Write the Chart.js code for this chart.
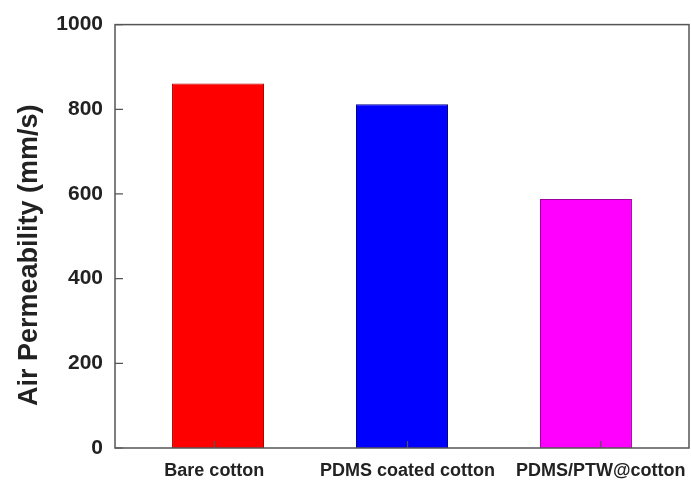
<!DOCTYPE html>
<html>
<head>
<meta charset="utf-8">
<script src="https://cdn.jsdelivr.net/npm/chart.js@4.4.1/dist/chart.umd.min.js"></script>
<style>
  html,body{margin:0;padding:0;background:#fff;}
  #wrap{width:691px;height:482px;}
</style>
</head>
<body>
<div id="wrap"><canvas id="c" width="691" height="482"></canvas></div>
<script>
// ====== DATA ======
const CATEGORIES = ['Bare cotton', 'PDMS coated cotton', 'PDMS/PTW@cotton'];
const POSITIONS  = [1, 2, 3];
const TICK_POS   = [0.98, 2.03, 3.08];   // source labels/ticks sit slightly off the bar centres
const VALUES     = [861, 812, 588];
const COLORS     = ['#ff0000', '#0000ff', '#ff00ff'];
const Y_TICKS    = [0, 200, 400, 600, 800, 1000];
const Y_TITLE    = 'Air Permeability (mm/s)';

const AXIS_COLOR = '#555';
const TEXT_COLOR = '#222';
const FONT = 'Liberation Sans, Arial, sans-serif';

// box around the plot, inward tick marks, y title
const framePlugin = {
  id: 'frame',
  afterDatasetsDraw(chart){
    const {ctx, chartArea:a, scales:{x, y}} = chart;
    ctx.save();
    ctx.strokeStyle = AXIS_COLOR;
    ctx.lineWidth = 1.5;
    ctx.strokeRect(a.left, a.top, a.right - a.left, a.bottom - a.top);
    ctx.lineWidth = 1.2;
    ctx.beginPath();
    Y_TICKS.forEach(v=>{
      const py = y.getPixelForValue(v);
      ctx.moveTo(a.left, py); ctx.lineTo(a.left + 8, py);
    });
    TICK_POS.forEach(v=>{
      const px = x.getPixelForValue(v);
      ctx.moveTo(px, a.bottom); ctx.lineTo(px, a.bottom - 7);
    });
    ctx.stroke();
    // y title, sits a bit below the plot centre as in the source
    ctx.translate(37, (a.top + a.bottom) / 2 + 19);
    ctx.rotate(-Math.PI / 2);
    ctx.fillStyle = TEXT_COLOR;
    ctx.font = 'bold 27px ' + FONT;
    ctx.textAlign = 'center';
    ctx.textBaseline = 'alphabetic';
    ctx.fillText(Y_TITLE, 0, 0);
    ctx.restore();
  }
};

new Chart(document.getElementById('c').getContext('2d'), {
  type: 'bar',
  data: {
    datasets: [{
      data: POSITIONS.map((p,i)=>({x:p, y:VALUES[i]})),
      backgroundColor: COLORS,
      borderColor: ['#b00000', '#00008a', '#a000a0'],
      borderWidth: 1,
      barPercentage: 0.5,
      categoryPercentage: 1.0
    }]
  },
  options: {
    responsive: false,
    animation: false,
    layout: {padding: {left: 0, right: 2, top: 10, bottom: 0}},
    plugins: {legend: {display: false}, tooltip: {enabled: false}},
    scales: {
      x: {
        type: 'linear',
        offset: false,
        min: 0.44,
        max: 3.56,
        grid: {display: false, drawTicks: false, offset: false},
        border: {display: false},
        afterBuildTicks: axis => { axis.ticks = TICK_POS.map(v=>({value:v})); },
        afterFit: s => { s.height = 34; s.paddingLeft = 0; s.paddingRight = 0; },
        ticks: {
          autoSkip: false, maxRotation: 0, padding: 12,
          color: TEXT_COLOR,
          font: {family: FONT, size: 18, weight: 'bold'},
          callback: v => CATEGORIES[TICK_POS.indexOf(v)] || ''
        }
      },
      y: {
        min: 0,
        max: 1000,
        grid: {display: false, drawTicks: false},
        border: {display: false},
        afterBuildTicks: axis => { axis.ticks = Y_TICKS.map(v=>({value:v})); },
        afterFit: s => { s.width = 115; },
        ticks: {
          padding: 12,
          color: TEXT_COLOR,
          font: {family: FONT, size: 21, weight: 'bold'},
          callback: v => String(v)
        }
      }
    }
  },
  plugins: [framePlugin]
});
</script>
</body>
</html>
